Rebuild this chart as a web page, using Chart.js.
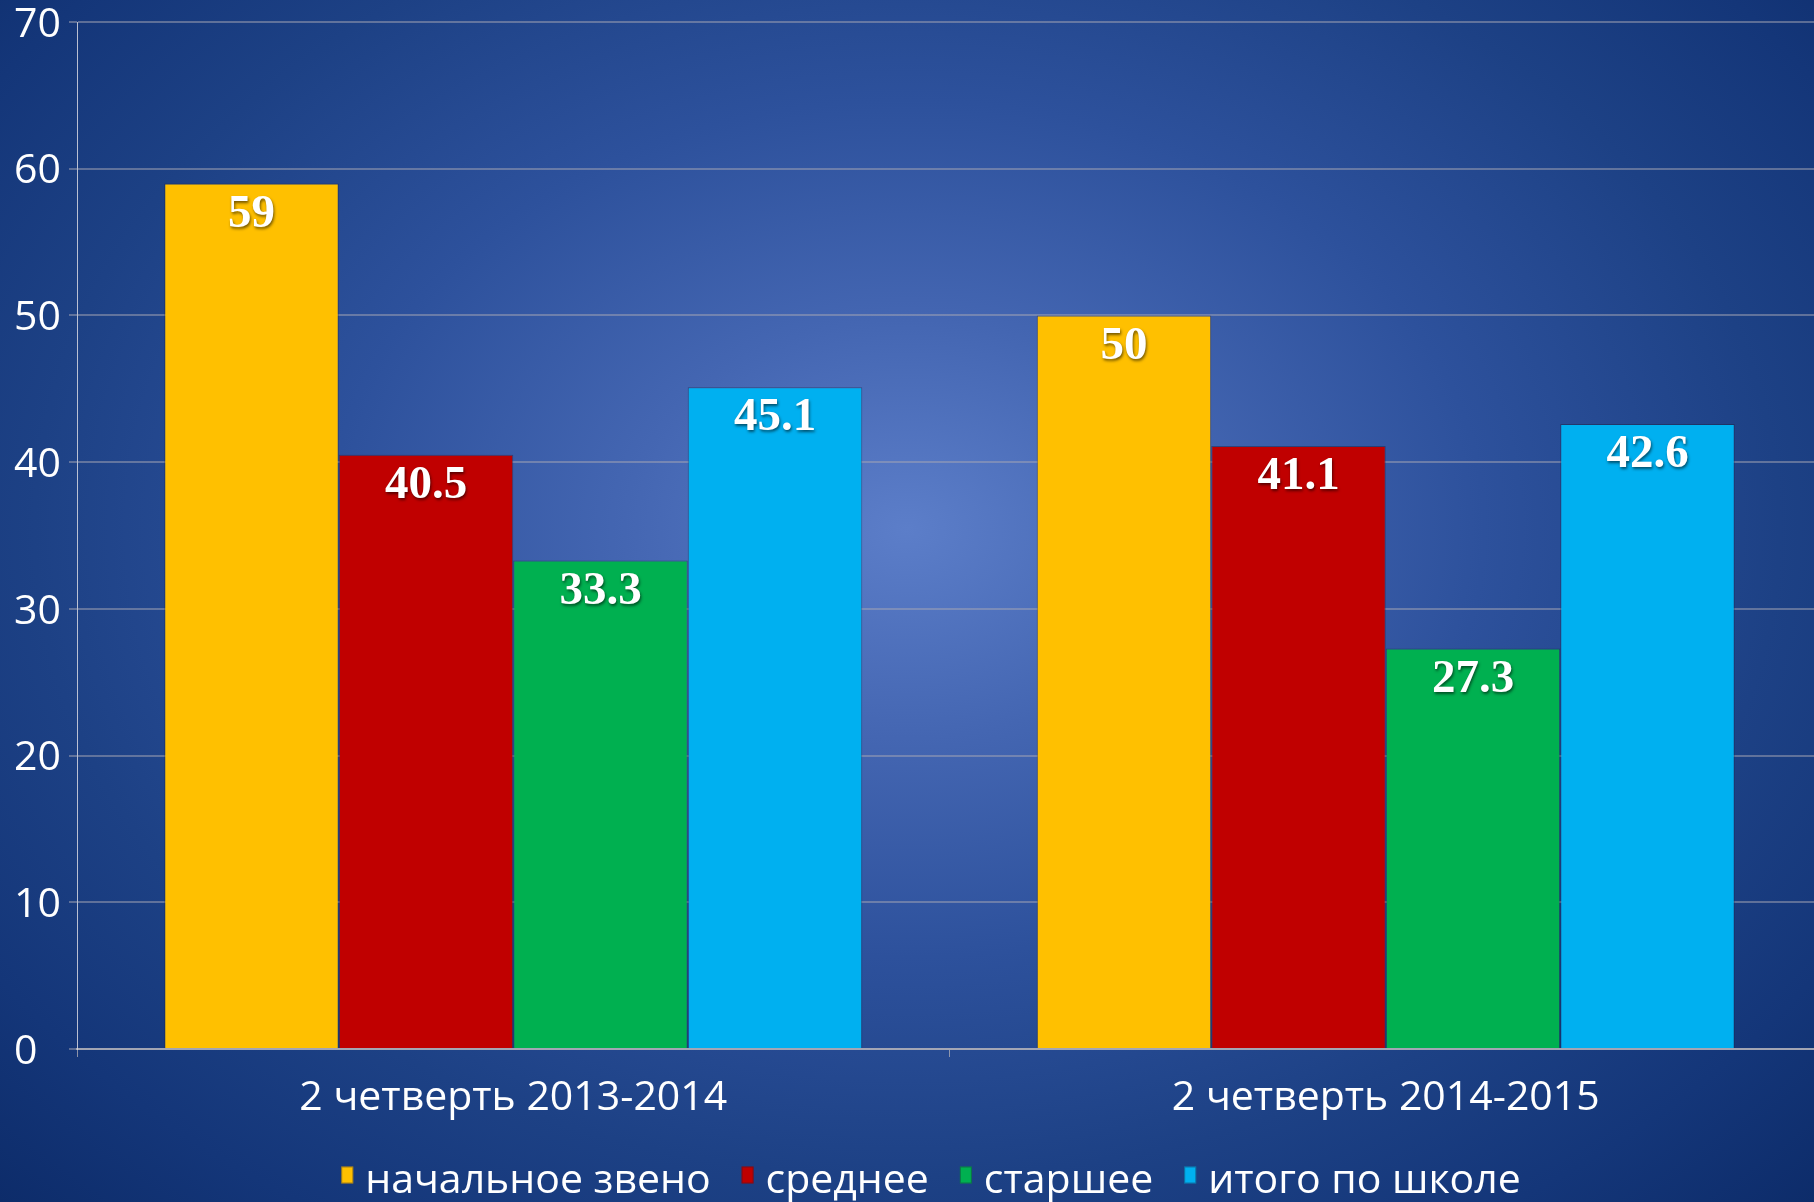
<!DOCTYPE html>
<html>
<head>
<meta charset="utf-8">
<script src="https://cdn.jsdelivr.net/npm/chart.js@4/dist/chart.umd.min.js"></script>
<style>
  html, body { margin: 0; padding: 0; overflow: hidden; }
  body {
    width: 1814px; height: 1202px;
    background: radial-gradient(ellipse farthest-corner at 50% 44%, #5c7ec9 0%, #4466b2 22%, #2d519c 45%, #1d4185 68%, #143679 85%, #0d2c6a 100%);
  }
  /* plot area runs slightly past the right edge, as in the original slide */
  #wrap { position: relative; width: 1822px; height: 1202px; }
</style>
</head>
<body>
<div id="wrap"><canvas id="barChart"></canvas></div>
<script>
const categories = ['2 четверть 2013-2014', '2 четверть 2014-2015'];
const seriesNames = ['начальное звено', 'среднее', 'старшее', 'итого по школе'];
const primary = [59, 50];
const middle = [40.5, 41.1];
const senior = [33.3, 27.3];
const total = [45.1, 42.6];
const colors = ['#FFC000', '#C00000', '#00B050', '#00B0F0'];

const allSeries = [primary, middle, senior, total];

// value labels inside the top of each bar
const valueLabels = {
  id: 'valueLabels',
  afterDatasetsDraw(chart) {
    const ctx = chart.ctx;
    ctx.save();
    ctx.font = 'bold 47px "Liberation Serif"';
    ctx.fillStyle = '#ffffff';
    ctx.textAlign = 'center';
    ctx.textBaseline = 'middle';
    ctx.shadowColor = 'rgba(0,0,0,0.55)';
    ctx.shadowBlur = 3;
    ctx.shadowOffsetX = 1;
    ctx.shadowOffsetY = 2;
    chart.data.datasets.forEach((ds, i) => {
      chart.getDatasetMeta(i).data.forEach((bar, j) => {
        ctx.fillText(String(ds.data[j]), bar.x, bar.y + 31);
      });
    });
    ctx.restore();
  }
};

// legend with a tight gap between swatch and text
const tightLegend = {
  id: 'tightLegend',
  afterDraw(chart) {
    const ctx = chart.ctx;
    const boxW = 12, boxH = 17, textGap = 12, itemGap = 31;
    ctx.save();
    ctx.font = '41px "Open Sans"';
    const items = chart.data.datasets.map(ds => ({
      text: ds.label, color: ds.backgroundColor, w: ctx.measureText(ds.label).width
    }));
    const totalW = items.reduce((s, it) => s + boxW + textGap + it.w, 0) + itemGap * (items.length - 1);
    let x = 931 - totalW / 2;
    const y = 1181;
    ctx.textBaseline = 'middle';
    ctx.textAlign = 'left';
    items.forEach(it => {
      ctx.fillStyle = it.color;
      ctx.fillRect(x, y - boxH / 2 - 6, boxW, boxH);
      ctx.strokeStyle = 'rgba(30,30,60,0.4)';
      ctx.lineWidth = 1;
      ctx.strokeRect(x + 0.5, y - boxH / 2 - 6 + 0.5, boxW - 1, boxH - 1);
      ctx.fillStyle = '#ffffff';
      ctx.fillText(it.text, x + boxW + textGap, y);
      x += boxW + textGap + it.w + itemGap;
    });
    ctx.restore();
  }
};

new Chart(document.getElementById('barChart').getContext('2d'), {
  type: 'bar',
  data: {
    labels: categories,
    datasets: allSeries.map((d, i) => ({
      label: seriesNames[i],
      data: d,
      backgroundColor: colors[i],
      borderColor: 'rgba(30,30,60,0.45)',
      borderWidth: 1,
      categoryPercentage: 0.8,
      barPercentage: 1.0
    }))
  },
  options: {
    responsive: true,
    maintainAspectRatio: false,
    animation: false,
    layout: { padding: { left: 14, right: 0, top: 22, bottom: 78 } },
    plugins: {
      tooltip: { enabled: false },
      legend: { display: false }
    },
    scales: {
      x: {
        grid: { drawOnChartArea: false, drawTicks: true, tickLength: 8, color: 'rgba(170,170,180,0.8)' },
        border: { display: true, color: 'rgba(175,175,185,0.85)', width: 2 },
        ticks: { color: '#ffffff', font: { family: '"Open Sans"', size: 41 }, padding: 17 },
        afterFit(scale) { scale.height = 75; }
      },
      y: {
        min: 0,
        max: 70,
        ticks: {
          stepSize: 10,
          color: '#ffffff',
          font: { family: '"Open Sans"', size: 41 },
          crossAlign: 'far',
          padding: 4,
          labelOffset: 3
        },
        afterFit(scale) { scale.width = 63; scale.paddingTop = 0; scale.paddingBottom = 0; },
        grid: { color: 'rgba(165,165,180,0.5)', lineWidth: 2, tickLength: 8 },
        border: { display: true, color: 'rgba(215,215,225,0.85)', width: 1 }
      }
    }
  },
  plugins: [valueLabels, tightLegend]
});
</script>
</body>
</html>
